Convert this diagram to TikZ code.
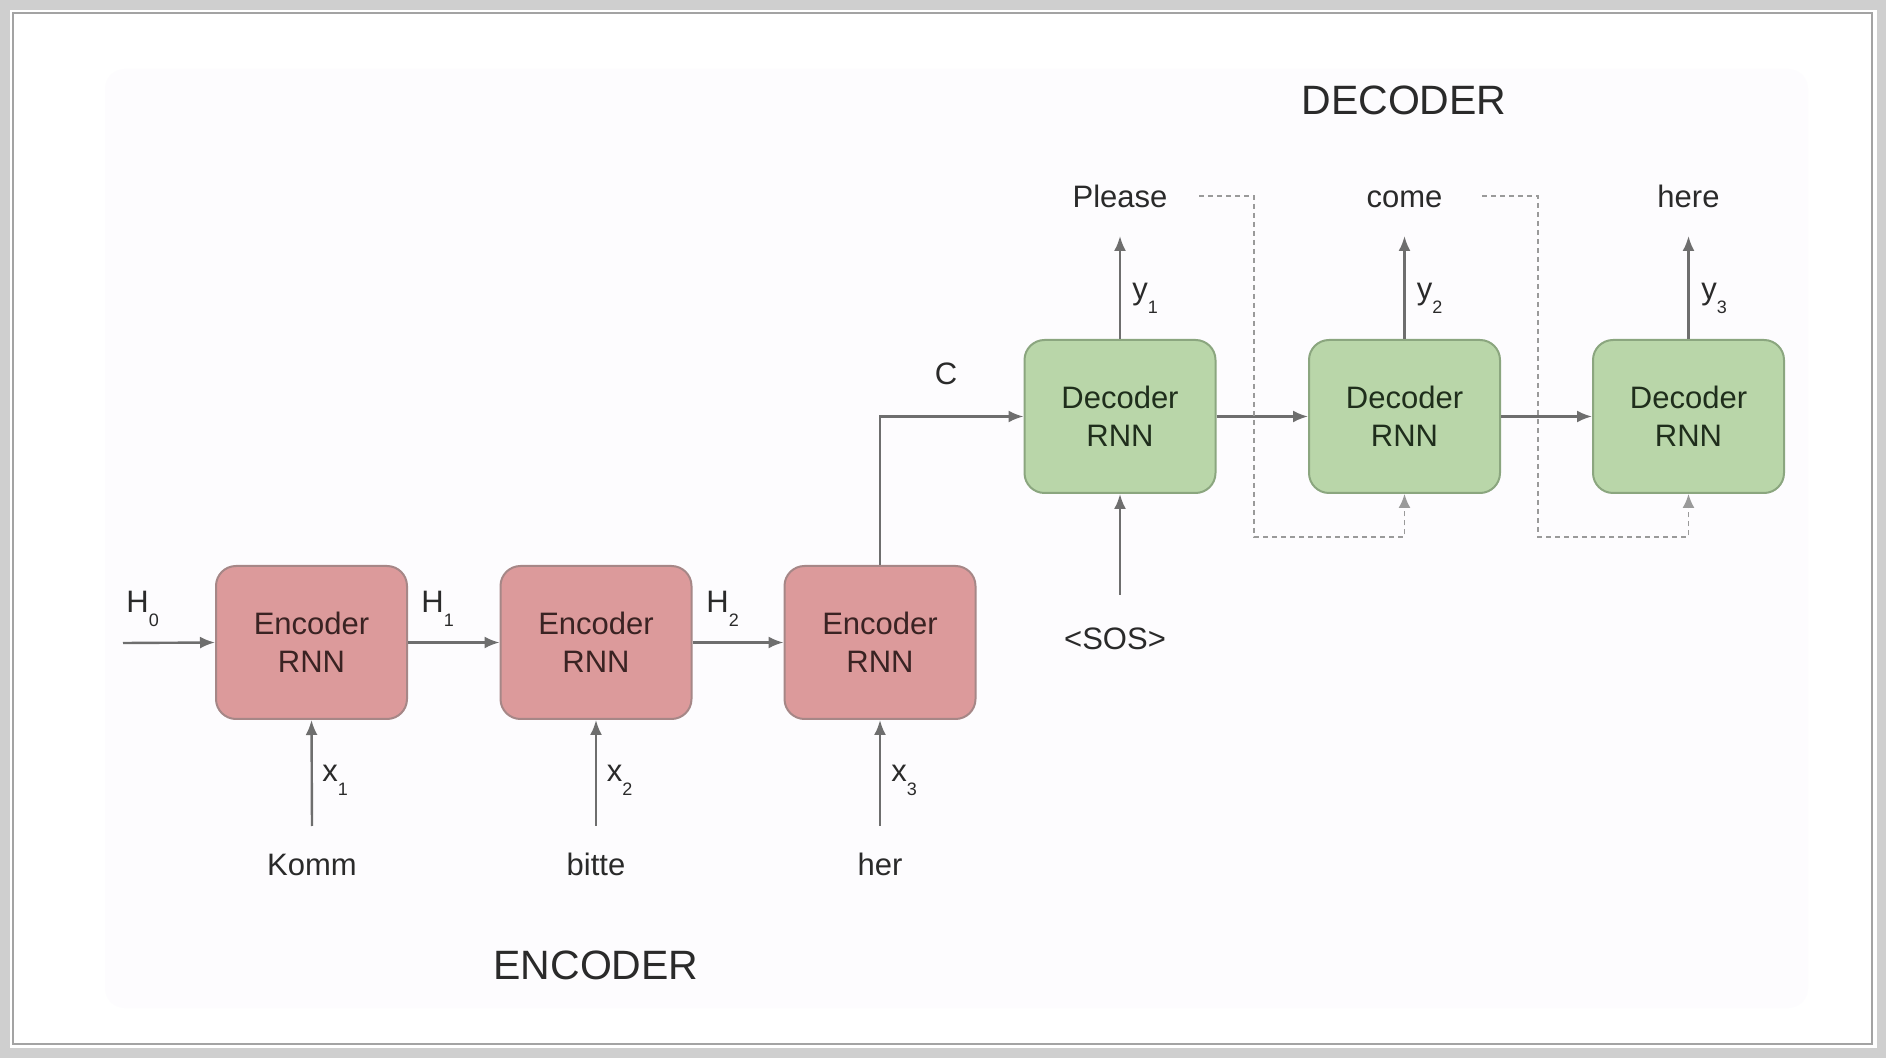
\documentclass[tikz,border=0pt]{standalone}
\usepackage{fontspec}
\setmainfont{Liberation Sans}
\usetikzlibrary{arrows.meta}
\definecolor{encfill}{HTML}{DC9A9B}
\definecolor{encdraw}{HTML}{A68787}
\definecolor{enctext}{HTML}{3A2323}
\definecolor{decfill}{HTML}{B9D6A9}
\definecolor{decdraw}{HTML}{8BA67F}
\definecolor{dectext}{HTML}{1F2E1C}
\definecolor{linegray}{HTML}{6E6E6E}
\definecolor{dashgray}{HTML}{9A9A9A}
\definecolor{txtgray}{HTML}{2A2A2A}
\definecolor{framegray}{HTML}{CFCFCF}
\definecolor{frameline}{HTML}{A3A3A3}
\definecolor{faintbg}{HTML}{FDFCFE}
\newcommand{\sbs}[1]{\raisebox{-7pt}{\fontsize{9}{10}\selectfont #1}}
\newcommand{\boxfont}{\fontsize{15.5}{19}\selectfont}
\newcommand{\lblfont}{\fontsize{15.5}{19}\selectfont}
\newcommand{\ttlfont}{\fontsize{20.5}{24}\selectfont}
\tikzset{
  encbox/.style={draw=encdraw, fill=encfill, rounded corners=10pt, line width=1pt,
    minimum width=95.5pt, minimum height=76.5pt, align=center, font=\boxfont,
    text=enctext, inner sep=0pt},
  decbox/.style={encbox, draw=decdraw, fill=decfill, text=dectext},
  arr/.style={draw=linegray, line width=1.2pt, -{Latex[length=7.5pt,width=6pt]}},
  dasharr/.style={draw=dashgray, line width=0.9pt, dash pattern=on 2.5pt off 2pt,
    -{Latex[length=7pt,width=6pt]}},
  lbl/.style={font=\lblfont, text=txtgray, inner sep=0pt},
  ttl/.style={font=\ttlfont, text=txtgray, inner sep=0pt}
}
\begin{document}
\begin{tikzpicture}[x=0.5pt,y=-0.5pt]
\useasboundingbox (0,0) rectangle (1886,1058);
% frame
\fill[framegray] (0,0) rectangle (1886,1058);
\fill[white] (10,10) rectangle (1877,1048);
\draw[frameline, line width=0.8pt] (13,13) rectangle (1872,1044);
\fill[faintbg, rounded corners=10pt] (105,69) rectangle (1808,1008);

% encoder boxes
\node[encbox] (e1) at (311.5,642.5) {Encoder\\RNN};
\node[encbox] (e2) at (596,642.5) {Encoder\\RNN};
\node[encbox] (e3) at (880,642.5) {Encoder\\RNN};
% decoder boxes
\node[decbox] (d1) at (1120,416.5) {Decoder\\RNN};
\node[decbox] (d2) at (1404.5,416.5) {Decoder\\RNN};
\node[decbox] (d3) at (1688.5,416.5) {Decoder\\RNN};

% titles
\node[ttl, anchor=base] (dectitle) at (1404,115) {DECODER};
\node[ttl, anchor=base] (enctitle) at (596,979) {ENCODER};

% input words
\node[lbl, anchor=base] (w1) at (312,875) {Komm};
\node[lbl, anchor=base] (w2) at (596,875) {bitte};
\node[lbl, anchor=base] (w3) at (880,875) {her};
% output words
\node[lbl, anchor=base] (o1) at (1120,208) {Please};
\node[lbl, anchor=base] (o2) at (1404.5,208) {come};
\node[lbl, anchor=base] (o3) at (1688.5,208) {here};
\node[lbl, anchor=base] (sos) at (1115,650) {<SOS>};

% hidden-state labels
\node[lbl, anchor=base west] (h0) at (126,613) {H\sbs{0}};
\node[lbl, anchor=base west] (h1) at (421,613) {H\sbs{1}};
\node[lbl, anchor=base west] (h2) at (706,613) {H\sbs{2}};
\node[lbl] (c) at (946,374) {C};
% input labels
\node[lbl, anchor=base west] (x1) at (322,782) {x\sbs{1}};
\node[lbl, anchor=base west] (x2) at (606.5,782) {x\sbs{2}};
\node[lbl, anchor=base west] (x3) at (891,782) {x\sbs{3}};
% output labels
\node[lbl, anchor=base west] (y1) at (1132,300) {y\sbs{1}};
\node[lbl, anchor=base west] (y2) at (1416.5,300) {y\sbs{2}};
\node[lbl, anchor=base west] (y3) at (1701,300) {y\sbs{3}};

% free ends
\coordinate (hin) at (123,643);
\coordinate (xin1) at (312,826);
\coordinate (xin2) at (596,826);
\coordinate (xin3) at (880,826);
\coordinate (sosin) at (1120,595);
\coordinate (yout1) at (1120,236);
\coordinate (yout2) at (1404.5,236);
\coordinate (yout3) at (1688.5,236);
\coordinate (fb1) at (1199,196);
\coordinate (fb1c) at (1254,537);
\coordinate (fb2) at (1482,196);
\coordinate (fb2c) at (1538,537);

% encoder chain
\draw[arr] (hin) -- (e1.west);
\draw[arr] (e1.east) -- (e2.west);
\draw[arr] (e2.east) -- (e3.west);
\draw[arr] (xin1) -- (e1.south);
\draw[arr] (xin2) -- (e2.south);
\draw[arr] (xin3) -- (e3.south);
% context
\draw[arr] (e3.north) |- (d1.west);
% decoder chain
\draw[arr] (d1.east) -- (d2.west);
\draw[arr] (d2.east) -- (d3.west);
\draw[arr] (sosin) -- (d1.south);
\draw[arr] (d1.north) -- (yout1);
\draw[arr] (d2.north) -- (yout2);
\draw[arr] (d3.north) -- (yout3);
% feedback
\draw[dasharr] (fb1) -| (fb1c) -| (d2.south);
\draw[dasharr] (fb2) -| (fb2c) -| (d3.south);
\end{tikzpicture}
\end{document}
